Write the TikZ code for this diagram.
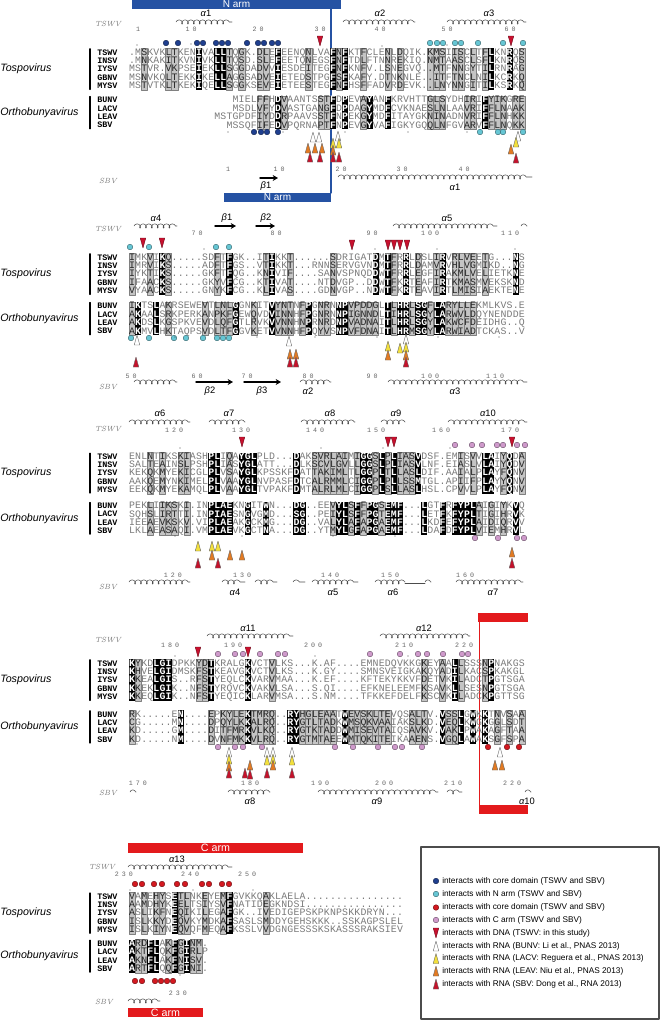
\documentclass[tikz,border=0pt]{standalone}
\usepackage{fontspec}
\setsansfont{Liberation Sans}
\setmonofont{Liberation Mono}
\newfontfamily\numfont[LetterSpace=45]{Liberation Mono}
\usetikzlibrary{positioning, arrows.meta, decorations.pathmorphing}

\definecolor{narmblue}{HTML}{2552A3}
\definecolor{carmred}{HTML}{E31A1C}
\definecolor{coreblue}{HTML}{1F3F8F}
\definecolor{narmcyan}{HTML}{66C6D4}
\definecolor{corered}{HTML}{D41920}
\definecolor{carmpink}{HTML}{CF9ACB}
\definecolor{dnared}{HTML}{C8102E}
\definecolor{lacvyellow}{HTML}{F3E03C}
\definecolor{leavorange}{HTML}{E27A22}
\definecolor{sbvred}{HTML}{C4122B}
\definecolor{resgray}{HTML}{7A7A7A}
\definecolor{boxgray}{HTML}{C4C4C4}

\makeatletter
\newcount\rescol
\newcommand\clearmask{\foreach \n in {1,...,66}{\expandafter\xdef\csname msk@\n\endcsname{.}}}
\newcommand\setmask[1]{\rescol=0 \msk@loop#1\@nil}
\def\msk@loop#1{\ifx#1\@nil\else
  \advance\rescol by 1\relax
  \expandafter\xdef\csname msk@\the\rescol\endcsname{#1}%
  \expandafter\msk@loop\fi}
\newcommand\drawmask[2]{%
  \foreach \n in {1,...,66}{%
    \edef\msk@c{\csname msk@\n\endcsname}%
    \if k\msk@c
      \fill[black] ({129+6.09*(\n-1)},{#1-4.2}) rectangle ++(6.09,{#2-(#1)+8.4});
    \fi
    \if g\msk@c
      \filldraw[cellgray] ({129+6.09*(\n-1)},{#1-4.2}) rectangle ++(6.09,{#2-(#1)+8.4});
    \fi}}
\newcommand\seqrow[2]{\def\seq@y{#1}\rescol=0 \seq@loop#2\@nil}
\def\seq@loop#1{\ifx#1\@nil\else
  \advance\rescol by 1\relax
  \seq@cell#1%
  \expandafter\seq@loop\fi}
\def\seq@cell#1{%
  \if-#1\else
    \edef\msk@c{\csname msk@\the\rescol\endcsname}%
    \if k\msk@c
      \node[resk] at ({129+6.09*(\the\rescol-0.5)},{\seq@y+2.8}) {#1};
    \else\if g\msk@c
      \node[resg] at ({129+6.09*(\the\rescol-0.5)},{\seq@y+2.8}) {#1};
    \else
      \node[res] at ({129+6.09*(\the\rescol-0.5)},{\seq@y+2.8}) {#1};
    \fi\fi
  \fi}
\makeatother

% markers: dots, DNA (down) and RNA (up) triangles
\newcommand\mdot[3]{\filldraw[fill=#1, draw=#1!50!black, line width=0.3pt] (#2,#3) circle (2.1pt);}
\newcommand\consdot[2]{\fill[black!70] (#1,#2) circle (0.45pt);}
\newcommand\tdown[2]{\filldraw[fill=dnared, draw=dnared!55!black, line width=0.3pt]
  (#1-2.8,#2-5) -- (#1+2.8,#2-5) -- (#1,#2+5) -- cycle;}
\newcommand\tup[3]{\filldraw[fill=#1, draw=black!60, line width=0.3pt]
  (#2-2.8,#3+5) -- (#2+2.8,#3+5) -- (#2,#3-5) -- cycle;}
\newcommand\ssa[1]{{\itshape α}#1}
\newcommand\ssb[1]{{\itshape β}#1}

% virus names and group labels of one block (uses \ty, \oy, \dy)
\newcommand\groups[1]{%
  \node[grpname] (tospo#1) at (0,{\ty+2*\dy}) {Tospovirus};
  \node[grpname] (ortho#1) at (0,{\oy+1.5*\dy}) {Orthobunyavirus};
  \draw[grpbar] (90,{\ty-3.5}) -- (90,{\ty+4*\dy+3.5});
  \draw[grpbar] (90,{\oy-3.5}) -- (90,{\oy+3*\dy+3.5});
  \foreach \nm [count=\i from 0] in {TSWV,INSV,IYSV,GBNV,MYSV}
    \node[spname] (#1\nm) at (97,{\ty+\i*\dy}) {\nm};
  \foreach \nm [count=\i from 0] in {BUNV,LACV,LEAV,SBV}
    \node[spname] (#1\nm) at (97,{\oy+\i*\dy}) {\nm};}

\tikzset{
  res/.style={font=\ttfamily\fontsize{7.4}{8}\selectfont, text=resgray, inner sep=0pt, anchor=base},
  resk/.style={res, font=\ttfamily\bfseries\fontsize{7.4}{8}\selectfont, text=white},
  resg/.style={res, text=black!85},
  cellgray/.style={fill=boxgray, draw=black!50, line width=0.3pt},
  spname/.style={font=\ttfamily\bfseries\fontsize{6.3}{7}\selectfont, anchor=west, inner sep=0pt},
  grpname/.style={font=\sffamily\itshape\fontsize{8}{9}\selectfont, anchor=west, inner sep=0pt},
  grpbar/.style={line width=0.9pt},
  reflabel/.style={font=\itshape\fontsize{5.6}{7}\selectfont, text=black!55, inner sep=0pt},
  numlab/.style={font=\numfont\fontsize{5}{6}\selectfont, text=black!60, inner sep=0pt},
  sslabel/.style={font=\sffamily\fontsize{7}{8}\selectfont, inner sep=0pt},
  helix/.style={decorate, decoration={coil, aspect=0.8, segment length=4.4pt, amplitude=1.6pt},
    line width=0.4pt, black!70},
  loop1/.style={helix, decoration={segment length=3.4pt}},
  strand/.style={-{Stealth[length=4pt, width=4.5pt]}, line width=1.1pt},
  armtext/.style={font=\sffamily\fontsize{7.5}{8}\selectfont, text=white, inner sep=0pt},
  legtext/.style={font=\sffamily\fontsize{6.2}{7}\selectfont, anchor=west, inner sep=0pt},
}

\begin{document}
\begin{tikzpicture}[x=0.75pt, y=-0.75pt, >=stealth, line cap=round, line join=round]
\useasboundingbox (0,0) rectangle (660,1022);

% ── block 1 (1-65) ─────────────────────────────────────────────────────
\fill[narmblue] (132,0) rectangle (341,8.5);
\node[armtext] (narmtop) at (236.5,4.6) {N arm};
\draw[narmblue, line width=0.9pt] (331,8.5) -- (331,193);
\fill[narmblue] (224,193) rectangle (331,201.5);
\node[armtext] (narmbot) at (277.5,197.6) {N arm};

\node[reflabel] (tswvA) at (108,24) {TSWV};
\draw[helix] (176,22) -- (232,22);  \node[sslabel] (a1t) at (206,13) {\ssa{1}};
\draw[helix] (343,22) -- (415,22);  \node[sslabel] (a2t) at (380,13) {\ssa{2}};
\draw[helix] (447,22) -- (526,22);  \node[sslabel] (a3t) at (489,13) {\ssa{3}};
\foreach \x/\t in {138/1,191/10,258/20,320/30,380/40,447/50,510/60}
  \node[numlab] (nA\t) at (\x,29) {\t};

\def\ty{52.3}\def\oy{100}\def\dy{8.4}
\clearmask
\setmask{..g...gg.. .k..kkg.g. .gg.k....g ...kgk..g. ..g.g....g gg.gg.g.gk ..k.g}
\drawmask{\ty}{\ty+4*\dy}
\seqrow{\ty}{.MSKVKLTKENIVALLTQGK.DLEFEENQNLVAFNFKTFCLENLDQIK.KMSIISCLTFLKNRQS}
\seqrow{\ty+\dy}{.MNKAKITKVNIVKLLTQSD.SLEFEETQNEGSFNFTDLFTNNREKIQ.NMTAASCLSFLKNRQS}
\seqrow{\ty+2*\dy}{MSTVR.VKPSEIEKLLSGGDADVVIESDEITEGFNFKNFV.LSNEGVQ..MTFNNGYTILRNRAG}
\seqrow{\ty+3*\dy}{MSNVKQLTEKKIKELLAGGSADVEIETEDSTPGFSFKAFY.DTNKNLE..ITFTNCLNILKCRKQ}
\seqrow{\ty+4*\dy}{MSTVTKLTKEKIQELLSGGKSEVEIETEESTEGFNFHSFFADVRDEVK..LNYNNGITILKSRKQ}
\clearmask
\setmask{.......... .......... .gg.kg.... .ggk.k..gk ..k......g gg...gg.kg gg.gg}
\drawmask{\oy}{\oy+3*\dy}
\seqrow{\oy}{-----------------MIELFFHDVAANTSSTFDPEVAYANFKRVHTTGLSYDHIRIFYIKGRE}
\seqrow{\oy+\dy}{-----------------MSDLVFYDVASTGANGFDPDAGYMDFCVKNAESLNLAAVRIFFLNAAK}
\seqrow{\oy+2*\dy}{--------------MSTGPDFIYDDRPAAVSSTFNPEKGYMDFITAYGKNINADNVRIFFLNHKK}
\seqrow{\oy+3*\dy}{----------------MSSQFIFEDVPQRNAPTFNPEVGYVAFIGKYGQQLNFGVARVFFLNQKK}
\groups{A}

\foreach \x in {166,178,197,203,216,222,228,247,258,264,272,278} {\mdot{coreblue}{\x}{43}}
\foreach \x in {430,437,443,455,461,478,503,523} {\mdot{narmcyan}{\x}{43}}
\foreach \x in {254,261,267,278} {\mdot{coreblue}{\x}{132}}
\foreach \x in {480,498,503,523} {\mdot{narmcyan}{\x}{132}}
\tdown{320}{41} \tdown{511}{41}
\foreach \x/\y in {313/137,319/137,338/136,518/136} {\tup{white}{\x}{\y}}
\foreach \x/\y in {333/143,339/143,516/142} {\tup{lacvyellow}{\x}{\y}}
\foreach \x/\y in {308/148,315/148,322/148,333/150,511/149} {\tup{leavorange}{\x}{\y}}
\foreach \x/\y in {310/157,320/157,333/157,339/157,516/158} {\tup{sbvred}{\x}{\y}}
\foreach \x/\y in {137/45,191/44,382/46,447/45,228/132,283/132,345/132,408/132,467/132}
  {\consdot{\x}{\y}}

\foreach \x/\t in {228/1,279/10,341/20,402/30,464/40}
  \node[numlab] (sA\t) at (\x,169) {\t};
\node[reflabel] (sbvA) at (108,181) {SBV};
\draw[strand] (260,178) -- (278,178);  \node[sslabel] (b1s) at (266,186) {\ssb{1}};
\draw[helix] (338,177) -- (532,177);   \node[sslabel] (a1s) at (455,187) {\ssa{1}};

% ── block 2 (66-130) ───────────────────────────────────────────────────
\node[reflabel] (tswvB) at (108,229) {TSWV};
\draw[helix] (134,226) -- (177,226);  \node[sslabel] (a4t) at (156,218) {\ssa{4}};
\draw[strand] (215,226) -- (236,226); \node[sslabel] (b1t) at (227,218) {\ssb{1}};
\draw[strand] (256,226) -- (275,226); \node[sslabel] (b2t) at (266,218) {\ssb{2}};
\draw[helix] (393,226) -- (497,226);  \draw[loop1] (521,226) -- (527,226);
\node[sslabel] (a5t) at (447,218) {\ssa{5}};
\foreach \x/\t in {197/70,276/80,372/90,430/100,510/110}
  \node[numlab] (nB\t) at (\x,233) {\t};

\def\ty{257.3}\def\oy{306}\def\dy{8.4}
\clearmask
\setmask{g..g.kg... ....g.k... ..gk..g... ...g...... k.kg.k.g.. gk.gggg.g. ...k.}
\drawmask{\ty}{\ty+4*\dy}
\seqrow{\ty}{IMKVIKQ.....SDFTFGK..ITIKKT......SDRIGATDMTFRRLDSLIRVRLVEETG...NS}
\seqrow{\ty+\dy}{IMRVIKS.....ADFTFGS..VTIKKT...RNNSERVGVNDMTFRRLDAMVRVHLVGMIKD..NG}
\seqrow{\ty+2*\dy}{IYKTIKS.....GKFTFQG..KNIVIF....SANVSPNQDDWTFRRLEGFIRAKMLVELIETKNE}
\seqrow{\ty+3*\dy}{IFAACKS.....GKYVFCG..KTIVAT....NTDVGP..DDWTFKRTEAFIRTKMASMVEKSKND}
\seqrow{\ty+4*\dy}{VYAACKS.....GNYKFCG..KLIVAS....GDNVGP..NDWTFKRTEAVIRTLMISIAEKTENE}
\clearmask
\setmask{gk..k.g... ..g.gggk.. g..kggg.gk .gg.kkgggg g.kgkkgkkg kkggggg... .....}
\drawmask{\oy}{\oy+3*\dy}
\seqrow{\oy}{IKTSLAKRSEWEVTLNLGGNKITVYNTNFPGNRNNPVPDDGLTLHRLSGFLARYLLEKMLKVS.E}
\seqrow{\oy+\dy}{AKAALSRKPERKANPKFGEWQVDVINNHFPGNRNNPIGNNDLTIHRLSGYLARWVLDQYNENDDE}
\seqrow{\oy+2*\dy}{AKDSLKGSPKVEVDLQFGTLRVKVVNNHNPRNRDNPVADNAITLHRLSGYLAKWCFDEIDHG..Q}
\seqrow{\oy+3*\dy}{AKMVLHKTAQPSVDLTFGGVKETVVNNHFPQYVSNPVFDNAITLHRMSGYLARWIADTCKAS..V}
\groups{B}

\foreach \x in {130,149,216,229} {\mdot{narmcyan}{\x}{247}}
\foreach \x in {131,149,174,186,203,217,223,229} {\mdot{narmcyan}{\x}{338}}
\foreach \x/\y in {143/243,162/243,352/245,388/245,394/245,400/245,407/245} {\tdown{\x}{\y}}
\foreach \x/\y in {137/340,289/341,406/339} {\tup{white}{\x}{\y}}
\foreach \x/\y in {388/346,400/348,406/347} {\tup{lacvyellow}{\x}{\y}}
\foreach \x/\y in {290/354,296/354,388/355,406/355} {\tup{leavorange}{\x}{\y}}
\foreach \x/\y in {136/362,290/362,296/362,406/362} {\tup{sbvred}{\x}{\y}}
\foreach \x/\y in {204/249,375/249,437/249,515/249,175/337,257/337,315/337,377/337,438/337,499/337}
  {\consdot{\x}{\y}}

\foreach \x/\t in {131/50,197/60,247/70,308/80,372/90,430/100,495/110}
  \node[numlab] (sB\t) at (\x,376) {\t};
\node[reflabel] (sbvB) at (108,387) {SBV};
\draw[helix] (134,382) -- (177,382);
\draw[strand] (196,382) -- (233,382); \node[sslabel] (b2s) at (210,391) {\ssb{2}};
\draw[strand] (244,382) -- (281,382); \node[sslabel] (b3s) at (262,391) {\ssb{3}};
\draw[helix] (300,382) -- (331,382);  \node[sslabel] (a2s) at (308,391) {\ssa{2}};
\draw[helix] (388,382) -- (527,382);  \node[sslabel] (a3s) at (455,391) {\ssa{3}};

% ── block 3 (131-195) ──────────────────────────────────────────────────
\node[reflabel] (tswvC) at (108,429) {TSWV};
\draw[helix] (129,422) -- (190,422);  \node[sslabel] (a6t) at (160,413) {\ssa{6}};
\draw[helix] (209,422) -- (245,422);  \node[sslabel] (a7t) at (229,413) {\ssa{7}};
\draw[helix] (301,422) -- (355,422);  \node[sslabel] (a8t) at (330,413) {\ssa{8}};
\draw[helix] (381,422) -- (405,422);  \node[sslabel] (a9t) at (396,413) {\ssa{9}};
\draw[helix] (448,422) -- (527,422);  \node[sslabel] (a10t) at (488,413) {\ssa{10}};
\foreach \x/\t in {174/120,241/130,315/140,376/150,441/160,510/170}
  \node[numlab] (nC\t) at (\x,430) {\t};

\def\ty{456.7}\def\oy{506}\def\dy{8.2}
\clearmask
\setmask{...g.g..gg ...kk.g.kk k......k.. gggggg.gkk gkgkgggk.. ....g.g.kk .gk.g}
\drawmask{\ty}{\ty+4*\dy}
\seqrow{\ty}{ENLNTIKSKIASHPLIQAYGLPLD...DAKSVRLAIMIGGSLPLIASVDSF.EMISVVLAIYQDA}
\seqrow{\ty+\dy}{SALTEAINSLPSHPLIASYGLATT...DLKSCVLGVLLGGSLPLIASVLNF.EIASLVLAIYQDV}
\seqrow{\ty+2*\dy}{KEKQKMYEKICGLPLVSAYGLKPSSKFDATTAKIMLTLGGPLTLLASLDIF.AAIALPLAYFQNV}
\seqrow{\ty+3*\dy}{AAKQEMYNKIMELPLVAAYGLNVPASFDTCALRMMLCIGGPLPLLSSMTGL.APIIFPLAYYQNV}
\seqrow{\ty+4*\dy}{EEKQKMYEKAMQLPLVAAYGLTVPAKFDMTALRLMLCIGGPLSLLASLHSL.CPVVLPLAYFQNV}
\clearmask
\setmask{...g.ggg.g ...kkkk..k ..k....kk. ...gkkgkgk kgkkk...k. .k.kkkkg.g .g.k.}
\drawmask{\oy}{\oy+3*\dy}
\seqrow{\oy}{PEKLIIKSKI.INPLAEKNGITWN...DG..EEVYLSFFPGSEMF...LGTFRFYPLAIGIYKVQ}
\seqrow{\oy+\dy}{SQHSLIRTTI.INPIAESNGVGMD...SG..PEIYLSFFPGTEMF...LETFKFYPLTIGIHRVK}
\seqrow{\oy+2*\dy}{IEEAEVKSKV.VIPLAEAKGCKMG...DG..VALYLAFAPGAEMF...LKDFEFYPLAIDIQRVV}
\seqrow{\oy+3*\dy}{LKLAEASAQI.VMPLAEVKGCTNA...DG..YTMYLGFAPGAEMF...LDAFDFYPLVIEMHRVL}
\groups{C}

\foreach \x in {455,472,482,497,503,517,525} {\mdot{carmpink}{\x}{445}}
\foreach \x in {475,498,517,524} {\mdot{carmpink}{\x}{538}}
\foreach \x/\y in {242/442,388/442,394/442,512/442} {\tdown{\x}{\y}}
\foreach \x/\y in {198/546,212/546,218/546} {\tup{lacvyellow}{\x}{\y}}
\foreach \x/\y in {212/555,230/555,242/555,512/552} {\tup{leavorange}{\x}{\y}}
\foreach \x/\y in {198/563,218/563,512/563} {\tup{sbvred}{\x}{\y}}
\foreach \x/\y in {180/448,321/448,383/448,450/448,175/536,242/536,333/536,395/536}
  {\consdot{\x}{\y}}

\foreach \x/\t in {173/120,242/130,330/140,390/150,465/160}
  \node[numlab] (sC\t) at (\x,575) {\t};
\node[reflabel] (sbvC) at (108,587) {SBV};
\draw[helix] (129,582) -- (190,582);
\draw[helix] (222,582) -- (245,582);  \draw[helix] (255,582) -- (277,582);
\node[sslabel] (a4s) at (235,592) {\ssa{4}};
\draw[helix] (293,582) -- (305,582);  \draw[helix] (312,582) -- (358,582);
\node[sslabel] (a5s) at (333,592) {\ssa{5}};
\draw[helix] (375,582) -- (405,582);  \draw[black!70, line width=0.4pt] (405,583) -- (425,583);
\draw[loop1] (425,582) -- (431,582);  \node[sslabel] (a6s) at (393,592) {\ssa{6}};
\draw[helix] (456,582) -- (523,582);  \node[sslabel] (a7s) at (493,592) {\ssa{7}};

% ── block 4 (196-260) ──────────────────────────────────────────────────
\fill[carmred] (478,613) rectangle (528,622);
\draw[carmred, line width=1pt] (479.5,622) -- (479.5,805);
\fill[carmred] (479,805) rectangle (528,814);

\node[reflabel] (tswvD) at (108,640) {TSWV};
\draw[helix] (207,636) -- (293,636);  \node[sslabel] (a11t) at (248,628) {\ssa{11}};
\draw[helix] (380,636) -- (470,636);  \node[sslabel] (a12t) at (424,628) {\ssa{12}};
\foreach \x/\t in {170/180,233/190,313/200,404/210,464/220}
  \node[numlab] (nD\t) at (\x,645) {\t};

\def\ty{663.3}\def\oy{714.3}\def\dy{8.4}
\clearmask
\setmask{kg..kkk... .ggk.....k ...g...... .......... ........g. .g.kg...gk .....}
\drawmask{\ty}{\ty+4*\dy}
\seqrow{\ty}{KYKDLGIDPKKYDTKRALGKVCTVLKS...K.AF....EMNEDQVKKGKEYAALLSSSNPNAKGS}
\seqrow{\ty+\dy}{KHVELGIDMSKFSTKEAVGKVCTVLKS...K.GY....SMNSVEIGKAKQYADILKACSPKAKGL}
\seqrow{\ty+2*\dy}{KKEALGIS..RFSTYEQLCKVARVMAA...K.EF....KFTEKYKKVFDETVKILADCTPGTSGA}
\seqrow{\ty+3*\dy}{KKEKLGIK..NFSTYRQVCKVAKVLSA...S.QI....EFKNELEEMFKSAVKLLSESNPGTSGA}
\seqrow{\ty+4*\dy}{KKEQLGIK..NFSTYEQICKLARVMSA...S.NM....TFKKEFDELFKSCVKILADCKPGTTSG}
\clearmask
\setmask{g.......k. ...g.ggggk gggg..kkgg gggg.kgggg ggg...ggg. .kggk.k.k. g.g.g}
\drawmask{\oy}{\oy+3*\dy}
\seqrow{\oy}{RK.....EN....EPKYLEKTMRQ..RYHGLEAATWEVSKLTEVQSALTV.VSSLGWKKTNVSAA}
\seqrow{\oy+\dy}{CG.....MN....DPQYLKKALRQ..RYGTLTADKWMSQKVAAIAKSLKD.VEQLKWGKGGLSDT}
\seqrow{\oy+2*\dy}{KD.....GM....DITFMRKVLKQ..RYGTKTADDWMISEVTAIQSAVKV.VAKLPWAKAGFTAA}
\seqrow{\oy+3*\dy}{KD.....NM....DVNFMKKVLRQ..RYGTMTAEEWMTQKITEIKAAENS.VGQLAWAKSGFSPA}
\groups{D}

\foreach \x in {218,235,243,260,278,285,370,400,418,427,443,462,468} {\mdot{carmpink}{\x}{654}}
\foreach \x in {218,235,243,262,335,353,378,395,402,422} {\mdot{carmpink}{\x}{747}}
\foreach \x in {488,507,519} {\mdot{corered}{\x}{747}}
\tdown{198}{652} \tdown{248}{652}
\foreach \x/\y in {229/752,267/752,273/752,292/752,500/752} {\tup{white}{\x}{\y}}
\foreach \x/\y in {229/759,267/760,273/759,292/760} {\tup{lacvyellow}{\x}{\y}}
\foreach \x/\y in {229/766,250/765,273/765,495/765,502/765} {\tup{leavorange}{\x}{\y}}
\foreach \x/\y in {229/773,245/773,250/774,267/773,292/773} {\tup{sbvred}{\x}{\y}}
\foreach \x/\y in {175/656,315/656,408/656,137/744,390/744,458/744}
  {\consdot{\x}{\y}}

\foreach \x/\t in {138/170,250/180,320/190,384/200,453/210,512/220}
  \node[numlab] (sD\t) at (\x,783) {\t};
\node[reflabel] (sbvD) at (108,793) {SBV};
\draw[loop1] (130,792) -- (136,792);
\draw[helix] (228,792) -- (270,792);  \node[sslabel] (a8s) at (250,801) {\ssa{8}};
\draw[helix] (318,792) -- (438,792);  \draw[helix] (447,792) -- (462,792);
\node[sslabel] (a9s) at (377,801) {\ssa{9}};
\draw[loop1] (525,792) -- (531,792);  \node[sslabel] (a10s) at (527,801) {\ssa{10}};

% ── block 5 (261-) ─────────────────────────────────────────────────────
\fill[carmred] (128,843) rectangle (303,853);
\node[armtext, font=\sffamily\fontsize{8}{9}\selectfont] (carmtop) at (215.5,848.2) {C arm};
\node[reflabel] (tswvE) at (102,867) {TSWV};
\draw[helix] (128,867) -- (232,867);  \node[sslabel] (a13t) at (177,859) {\ssa{13}};
\foreach \x/\t in {124/230,190/240,247/250}
  \node[numlab] (nE\t) at (\x,874) {\t};

\def\ty{896.5}\def\oy{943.7}\def\dy{8.3}
\clearmask
\setmask{g.g.gg.kgg ..g..gk... ..g.......}
\drawmask{\ty}{\ty+4*\dy}
\seqrow{\ty}{VAMEHYSETLNKEYEMFGVKKQAKLAELA................}
\seqrow{\ty+\dy}{AAMDHYKEELTSIYSVFNATIDEGKNDSI................}
\seqrow{\ty+2*\dy}{ASLIKFNEQIKILEGAFGK..IVEDIGEPSKPKNPSKKDRYN...}
\seqrow{\ty+3*\dy}{ISLKKYDEQVKYMDKAFSASLSMDDYGEHSKKK..SSKAGPSLEL}
\seqrow{\ty+4*\dy}{ISLKIYNEQVQFMEQAFKSSLVVDGNGESSSKSKASSSRAKSIEV}
\clearmask
\setmask{kggkk.gkgk gg.}
\drawmask{\oy}{\oy+3*\dy}
\seqrow{\oy}{ARDFLAKFGINM.}
\seqrow{\oy+\dy}{AKTFLQKFGIRLP}
\seqrow{\oy+2*\dy}{AKNFLAKFNISV.}
\seqrow{\oy+3*\dy}{ARTFLQQFGINI.}
\groups{E}

\foreach \x in {135,142,154,162,177,185,202,209,222,229} {\mdot{corered}{\x}{884}}
\foreach \x in {135,142,155,161,167,173} {\mdot{corered}{\x}{981}}
\foreach \x/\y in {130/890,193/890,253/890,180/975}
  {\consdot{\x}{\y}}

\node[numlab] (sE230) at (178,993) {230};
\node[reflabel] (sbvE) at (104,1002) {SBV};
\draw[helix] (128,1001) -- (160,1001);
\fill[carmred] (128,1008) rectangle (203,1016.5);
\node[armtext, font=\sffamily\fontsize{8}{9}\selectfont] (carmbot) at (165.5,1012.5) {C arm};

% ── legend ─────────────────────────────────────────────────────────────
\draw[black!70, line width=0.8pt] (421,847) rectangle (659,1019);
\mdot{coreblue}{436}{881}
\node[legtext] (legcore) at (442,881) {interacts with core domain (TSWV and SBV)};
\mdot{narmcyan}{436}{894}
\node[legtext] (legnarm) at (442,894) {interacts with N arm (TSWV and SBV)};
\mdot{corered}{436}{907.5}
\node[legtext] (legcorec) at (442,907.5) {interacts with core domain (TSWV and SBV)};
\mdot{carmpink}{436}{920}
\node[legtext] (legcarm) at (442,920) {interacts with C arm (TSWV and SBV)};
\tdown{436}{933}
\node[legtext] (legdna) at (442,933) {interacts with DNA (TSWV: in this study)};
\tup{white}{436}{946}
\node[legtext] (legbunv) at (442,946) {interacts with RNA (BUNV: Li et al., PNAS 2013)};
\tup{lacvyellow}{436}{958.5}
\node[legtext] (leglacv) at (442,958.5) {interacts with RNA (LACV: Reguera et al., PNAS 2013)};
\tup{leavorange}{436}{971}
\node[legtext] (legleav) at (442,971) {interacts with RNA (LEAV: Niu et al., PNAS 2013)};
\tup{sbvred}{436}{984}
\node[legtext] (legsbv) at (442,984) {interacts with RNA (SBV: Dong et al., RNA 2013)};

\end{tikzpicture}
\end{document}
